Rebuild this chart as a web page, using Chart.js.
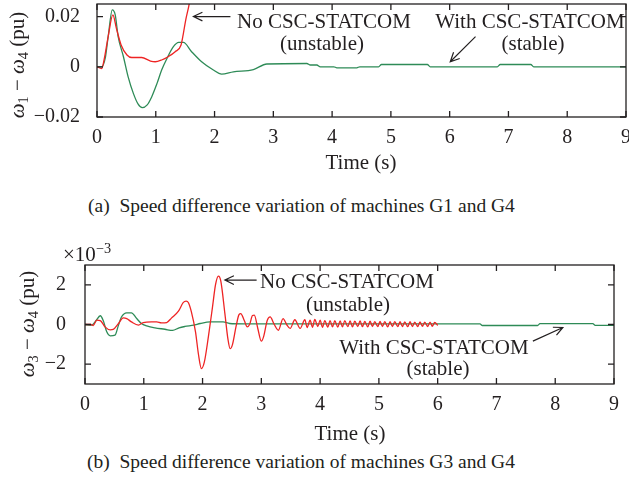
<!DOCTYPE html>
<html>
<head>
<meta charset="utf-8">
<script src="https://cdn.jsdelivr.net/npm/chart.js@4.4.0/dist/chart.umd.min.js"></script>
<style>
  body { margin: 0; background: #fff; width: 629px; height: 489px; position: relative; overflow: hidden;
         font-family: "Liberation Serif", "DejaVu Serif", serif; color: #231f20; }
  canvas { position: absolute; left: 0; }
  .t { position: absolute; font-size: 21px; line-height: 1; white-space: nowrap; transform: translate(-50%, -50%); }
  .l { transform: translate(0, -50%); }
  .ylab { transform: translate(-50%, -50%) rotate(-90deg); }
  .cap { position: absolute; font-size: 19.5px; line-height: 1; white-space: nowrap; transform: translate(0, -50%); }
  sub { font-size: 0.68em; vertical-align: -0.3em; line-height: 0; }
  sup { font-size: 0.68em; vertical-align: 0.55em; line-height: 0; }
</style>
</head>
<body>
<canvas id="chartA" width="629" height="180" style="top:0"></canvas>
<canvas id="chartB" width="629" height="200" style="top:240px"></canvas>

<!-- (a) labels -->
<div class="t ylab" style="left:17px;top:65px"><i>ω</i><sub>1</sub> − <i>ω</i><sub>4</sub> (pu)</div>
<div class="t l" style="left:237px;top:21px">No CSC-STATCOM</div>
<div class="t" style="left:322px;top:43px">(unstable)</div>
<div class="t" style="left:530px;top:21px">With CSC-STATCOM</div>
<div class="t" style="left:533px;top:43px">(stable)</div>
<div class="t" style="left:361px;top:162px">Time (s)</div>
<div class="cap" style="left:88px;top:206px">(a)&nbsp; Speed difference variation of machines G1 and G4</div>

<!-- (b) labels -->
<div class="t ylab" style="left:27px;top:324px"><i>ω</i><sub>3</sub> − <i>ω</i><sub>4</sub> (pu)</div>
<div class="t l" style="left:63px;top:254px">×10<sup>−3</sup></div>
<div class="t l" style="left:260px;top:281px">No CSC-STATCOM</div>
<div class="t" style="left:348px;top:304px">(unstable)</div>
<div class="t" style="left:434px;top:347px">With CSC-STATCOM</div>
<div class="t" style="left:438px;top:368px">(stable)</div>
<div class="t" style="left:350px;top:433px">Time (s)</div>
<div class="cap" style="left:87px;top:462px">(b)&nbsp; Speed difference variation of machines G3 and G4</div>

<script>
// shared axis ticks
const xTicks = [0, 1, 2, 3, 4, 5, 6, 7, 8, 9]
const yTicksA = [-0.02, 0, 0.02]
const yTicksB = [-2, 0, 2]

// (a) G1 - G4, pu
const tRedA = [0, 0.08, 0.12, 0.19, 0.27, 0.33, 0.41, 0.51, 0.59, 0.76, 0.91, 0.99, 1.10, 1.21, 1.33, 1.43, 1.47, 1.51, 1.56, 1.60, 1.64]
const vRedA = [0, -0.0007, 0.0027, 0.012, 0.0207, 0.0153, 0.0087, 0.0047, 0.0037, 0.0037, 0.0023, 0.002, 0.0027, 0.004, 0.006, 0.0087, 0.0133, 0.0187, 0.024, 0.029, 0.034]

const tGreenA = [0, 0.08, 0.14, 0.19, 0.26, 0.31, 0.36, 0.45, 0.53, 0.62, 0.70, 0.77, 0.85, 0.93, 1.02, 1.10, 1.19, 1.30, 1.39, 1.47, 1.61, 1.78,
  1.98, 2.12, 2.32, 2.66, 2.89, 3.57, 3.63, 3.74, 3.80, 4.03, 4.08, 4.42, 4.47, 4.79, 4.84, 5.62, 5.67, 6.81, 6.86, 7.38, 7.43, 9]
const vGreenA = [0, 0, 0.0034, 0.012, 0.0227, 0.0207, 0.012, 0.004, -0.004, -0.0107, -0.0149, -0.0163, -0.0153, -0.012, -0.0067, -0.0013, 0.0033, 0.008, 0.0097, 0.0097, 0.006, 0.002,
  -0.0013, -0.0029, -0.002, -0.0011, 0.0011, 0.0013, 0.0007, 0.0007, 0, 0, -0.0004, -0.0004, 0, 0, 0.0009, 0.0009, 0, 0, 0.0009, 0.0009, 0, 0]

// (b) G3 - G4, x1e-3 pu
const tRedB = [0, 0.1, 0.14, 0.2, 0.26, 0.34, 0.43, 0.48, 0.57, 0.65, 0.71, 0.79, 0.91, 0.99, 1.13, 1.22, 1.30, 1.39, 1.47, 1.59, 1.67, 1.72, 1.76,
  1.81, 1.88, 1.93, 1.98, 2.03, 2.10, 2.17, 2.22, 2.27, 2.31, 2.38, 2.43, 2.47, 2.51, 2.57, 2.62, 2.65, 2.71, 2.76, 2.80, 2.85, 2.88, 2.94,
  3.00, 3.04, 3.10, 3.15, 3.22, 3.29, 3.37, 3.43, 3.49, 3.57, 3.66, 3.74,
  3.78, 3.83, 3.87, 3.91, 3.96, 4.00, 4.04, 4.08, 4.13, 4.17, 4.21, 4.25, 4.30, 4.34, 4.38, 4.42, 4.47, 4.51, 4.55, 4.59, 4.64, 4.68,
  4.72, 4.76, 4.81, 4.85, 4.89, 4.93, 4.98, 5.02, 5.06, 5.10, 5.15, 5.19, 5.23, 5.27, 5.32, 5.36, 5.40, 5.44, 5.49, 5.53, 5.57, 5.61,
  5.66, 5.70, 5.74, 5.78, 5.83, 5.87, 5.91, 5.95, 6.00]
const vRedB = [0, 0, -0.05, 0.22, 0.2, -0.12, -0.27, -0.25, 0.05, 0.33, 0.3, 0.13, -0.03, 0.1, 0.13, 0.13, 0.08, 0.1, 0.32, 0.67, 1.1, 1.18, 1.1,
  0.64, -0.37, -1.5, -2.22, -1.9, -0.6, 0.9, 2.0, 2.44, 2.2, 0.55, -0.7, -1.22, -1.0, -0.1, 0.5, 0.55, 0.2, -0.12, 0.0, 0.45, 0.47, -0.2,
  -0.84, -0.6, 0.2, 0.38, 0.0, -0.29, 0.3, 0.0, -0.2, 0.24, -0.2, 0.24,
  -0.15, 0.22, -0.14, 0.26, -0.1, 0.22, -0.14, 0.2, -0.13, 0.2, -0.12, 0.19, -0.13, 0.18, -0.12, 0.2, -0.11, 0.18, -0.12, 0.17, -0.1, 0.18,
  -0.11, 0.16, -0.12, 0.17, -0.1, 0.15, -0.11, 0.16, -0.1, 0.15, -0.12, 0.14, -0.1, 0.15, -0.11, 0.14, -0.1, 0.13, -0.11, 0.14, -0.1, 0.12,
  -0.1, 0.13, -0.09, 0.12, -0.1, 0.12, -0.09, 0.11, -0.05]

const tGreenB = [0, 0.11, 0.15, 0.19, 0.26, 0.31, 0.37, 0.43, 0.51, 0.57, 0.62, 0.71, 0.79, 0.88, 0.96, 1.05, 1.19, 1.36, 1.49, 1.60, 1.70,
  1.85, 1.96, 2.13, 2.35, 2.46, 2.70, 6.72, 6.76, 7.70, 7.74, 8.64, 8.68, 9]
const vGreenB = [0, -0.03, 0.05, 0.2, 0.44, 0.2, -0.37, -0.57, -0.54, -0.03, 0.38, 0.59, 0.59, 0.3, 0.05, -0.07, -0.17, -0.24, -0.3, -0.17, -0.1,
  -0.03, 0.05, 0.13, 0.13, 0.05, 0.03, 0.03, -0.05, -0.05, 0.04, 0.04, -0.04, -0.04]

// annotation arrows in data units: [tailX, tailY, tipX, tipY]
const arrowsA = [[2.27, 0.02, 1.64, 0.02], [6.44, 0.012, 6.01, 0.002]]
const arrowsB = [[2.92, 2.24, 2.38, 2.24], [7.62, -0.84, 8.13, -0.15]]

const RED = '#ee2424'
const GREEN = '#2e8b57'
const INK = '#231f20'

function pts (ts, vs) { return ts.map((t, i) => ({ x: t, y: vs[i] })) }

function drawArrow (ctx, x1, y1, x2, y2) {
  const ang = Math.atan2(y2 - y1, x2 - x1)
  const len = 10, spread = 0.45
  ctx.beginPath()
  ctx.moveTo(x1, y1); ctx.lineTo(x2, y2)
  ctx.moveTo(x2 - len * Math.cos(ang - spread), y2 - len * Math.sin(ang - spread))
  ctx.lineTo(x2, y2)
  ctx.lineTo(x2 - len * Math.cos(ang + spread), y2 - len * Math.sin(ang + spread))
  ctx.stroke()
}

// box frame, inward ticks on all sides, arrows
const framePlugin = {
  id: 'frame',
  afterDatasetsDraw (chart, args, opts) {
    const { ctx, chartArea: a, scales: { x, y } } = chart
    ctx.save()
    ctx.strokeStyle = INK
    ctx.lineWidth = 1.3
    ctx.strokeRect(a.left, a.top, a.right - a.left, a.bottom - a.top)
    ctx.beginPath()
    x.ticks.forEach(tk => {
      const px = x.getPixelForValue(tk.value)
      ctx.moveTo(px, a.bottom); ctx.lineTo(px, a.bottom - 6)
      ctx.moveTo(px, a.top); ctx.lineTo(px, a.top + 6)
    })
    y.ticks.forEach(tk => {
      const py = y.getPixelForValue(tk.value)
      ctx.moveTo(a.left, py); ctx.lineTo(a.left + 6, py)
      ctx.moveTo(a.right, py); ctx.lineTo(a.right - 6, py)
    })
    ctx.stroke()
    ctx.lineWidth = 1.2
    ;(opts.arrows || []).forEach(ar => drawArrow(ctx,
      x.getPixelForValue(ar[0]), y.getPixelForValue(ar[1]),
      x.getPixelForValue(ar[2]), y.getPixelForValue(ar[3])))
    ctx.restore()
  }
}

function fmtTick (v, dec) {
  if (v === 0) return '0'
  return (v < 0 ? '−' : '') + Math.abs(v).toFixed(dec)
}

function makeChart (id, o) {
  return new Chart(document.getElementById(id), {
    type: 'line',
    data: {
      datasets: [
        { data: pts(o.tRed, o.vRed), borderColor: RED, borderWidth: 1.3, pointRadius: 0, cubicInterpolationMode: 'monotone' },
        { data: pts(o.tGreen, o.vGreen), borderColor: GREEN, borderWidth: 1.3, pointRadius: 0, cubicInterpolationMode: 'monotone' }
      ]
    },
    options: {
      responsive: false,
      animation: false,
      devicePixelRatio: 1,
      layout: { padding: o.pad },
      plugins: { legend: { display: false }, tooltip: { enabled: false }, frame: { arrows: o.arrows } },
      scales: {
        x: {
          type: 'linear', min: 0, max: 9,
          afterBuildTicks: s => { s.ticks = xTicks.map(v => ({ value: v })) },
          afterFit: s => { s.height = o.xH; s.paddingLeft = 0; s.paddingRight = 0 },
          grid: { display: false }, border: { display: false },
          ticks: { color: INK, padding: 1, font: { family: 'Liberation Serif', size: 20 }, maxRotation: 0, callback: v => String(v) }
        },
        y: {
          min: o.yMin, max: o.yMax,
          afterBuildTicks: s => { s.ticks = o.yTicks.map(v => ({ value: v })) },
          afterFit: s => { s.width = o.yW; s.paddingTop = 0; s.paddingBottom = 0 },
          grid: { display: false }, border: { display: false },
          ticks: { color: INK, padding: o.yPad, font: { family: 'Liberation Serif', size: 20 }, callback: v => fmtTick(v, o.dec) }
        }
      }
    },
    plugins: [framePlugin]
  })
}

makeChart('chartA', {
  tRed: tRedA, vRed: vRedA, tGreen: tGreenA, vGreen: vGreenA,
  yMin: -0.02, yMax: 0.025, yTicks: yTicksA, dec: 2,
  pad: { top: 4, right: 3, left: 0, bottom: 0 }, xH: 63, yW: 97, yPad: 9, arrows: arrowsA
})

makeChart('chartB', {
  tRed: tRedB, vRed: vRedB, tGreen: tGreenB, vGreen: vGreenB,
  yMin: -3, yMax: 3, yTicks: yTicksB, dec: 0,
  pad: { top: 25, right: 15, left: 0, bottom: 0 }, xH: 56, yW: 85, yPad: 11, arrows: arrowsB
})
</script>
</body>
</html>
